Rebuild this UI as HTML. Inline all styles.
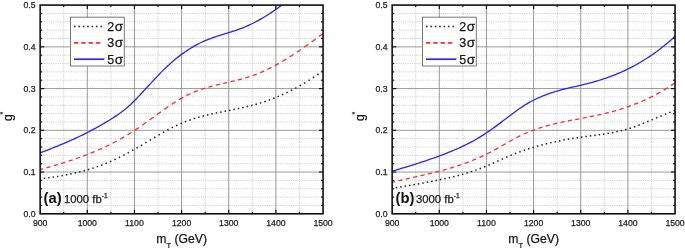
<!DOCTYPE html>
<html><head><meta charset="utf-8"><style>
html,body{margin:0;padding:0;background:#fff;}
body{width:685px;height:248px;overflow:hidden;}
svg{display:block;will-change:transform;filter:blur(0.3px);font-family:"Liberation Sans",sans-serif;}
text{stroke:#222;stroke-width:0.25px;}
.gm{stroke:#cdcdcd;stroke-width:1;stroke-dasharray:1.1 1.1;}
.gM{stroke:#939393;stroke-width:0.95;}
.tk{stroke:#111;stroke-width:1.2;}
.tl{font-size:8.7px;fill:#1a1a1a;}
.lb{font-size:14.8px;font-weight:bold;fill:#111;stroke-width:0;}
.lt{font-size:11.3px;fill:#1a1a1a;}
.sup{font-size:6.6px;}
.lp{}
.sg{font-size:10.2px;}
.lg{font-size:12.5px;fill:#111;}
.at{font-size:12.2px;fill:#111;}
.sub{font-size:7.5px;}
.sup2{font-size:7px;}
</style></head><body>
<svg width="685" height="248" viewBox="0 0 685 248">
<defs>
<clipPath id="clipa"><rect x="40.15" y="5.10" width="282.90" height="208.70"/></clipPath>
<clipPath id="clipb"><rect x="392.15" y="5.10" width="282.90" height="208.70"/></clipPath>
</defs>
<line x1="63.72" y1="5.10" x2="63.72" y2="213.80" class="gm"/>
<line x1="110.88" y1="5.10" x2="110.88" y2="213.80" class="gm"/>
<line x1="158.03" y1="5.10" x2="158.03" y2="213.80" class="gm"/>
<line x1="205.18" y1="5.10" x2="205.18" y2="213.80" class="gm"/>
<line x1="252.32" y1="5.10" x2="252.32" y2="213.80" class="gm"/>
<line x1="299.47" y1="5.10" x2="299.47" y2="213.80" class="gm"/>
<line x1="40.15" y1="205.45" x2="323.05" y2="205.45" class="gm"/>
<line x1="40.15" y1="197.10" x2="323.05" y2="197.10" class="gm"/>
<line x1="40.15" y1="188.76" x2="323.05" y2="188.76" class="gm"/>
<line x1="40.15" y1="180.41" x2="323.05" y2="180.41" class="gm"/>
<line x1="40.15" y1="163.71" x2="323.05" y2="163.71" class="gm"/>
<line x1="40.15" y1="155.36" x2="323.05" y2="155.36" class="gm"/>
<line x1="40.15" y1="147.02" x2="323.05" y2="147.02" class="gm"/>
<line x1="40.15" y1="138.67" x2="323.05" y2="138.67" class="gm"/>
<line x1="40.15" y1="121.97" x2="323.05" y2="121.97" class="gm"/>
<line x1="40.15" y1="113.62" x2="323.05" y2="113.62" class="gm"/>
<line x1="40.15" y1="105.28" x2="323.05" y2="105.28" class="gm"/>
<line x1="40.15" y1="96.93" x2="323.05" y2="96.93" class="gm"/>
<line x1="40.15" y1="80.23" x2="323.05" y2="80.23" class="gm"/>
<line x1="40.15" y1="71.88" x2="323.05" y2="71.88" class="gm"/>
<line x1="40.15" y1="63.54" x2="323.05" y2="63.54" class="gm"/>
<line x1="40.15" y1="55.19" x2="323.05" y2="55.19" class="gm"/>
<line x1="40.15" y1="38.49" x2="323.05" y2="38.49" class="gm"/>
<line x1="40.15" y1="30.14" x2="323.05" y2="30.14" class="gm"/>
<line x1="40.15" y1="21.80" x2="323.05" y2="21.80" class="gm"/>
<line x1="40.15" y1="13.45" x2="323.05" y2="13.45" class="gm"/>
<line x1="87.30" y1="5.10" x2="87.30" y2="213.80" class="gM"/>
<line x1="134.45" y1="5.10" x2="134.45" y2="213.80" class="gM"/>
<line x1="181.60" y1="5.10" x2="181.60" y2="213.80" class="gM"/>
<line x1="228.75" y1="5.10" x2="228.75" y2="213.80" class="gM"/>
<line x1="275.90" y1="5.10" x2="275.90" y2="213.80" class="gM"/>
<line x1="40.15" y1="172.06" x2="323.05" y2="172.06" class="gM"/>
<line x1="40.15" y1="130.32" x2="323.05" y2="130.32" class="gM"/>
<line x1="40.15" y1="88.58" x2="323.05" y2="88.58" class="gM"/>
<line x1="40.15" y1="46.84" x2="323.05" y2="46.84" class="gM"/>
<line x1="63.72" y1="213.80" x2="63.72" y2="211.80" class="tk"/>
<line x1="63.72" y1="5.10" x2="63.72" y2="7.10" class="tk"/>
<line x1="87.30" y1="213.80" x2="87.30" y2="209.80" class="tk"/>
<line x1="87.30" y1="5.10" x2="87.30" y2="9.10" class="tk"/>
<line x1="110.88" y1="213.80" x2="110.88" y2="211.80" class="tk"/>
<line x1="110.88" y1="5.10" x2="110.88" y2="7.10" class="tk"/>
<line x1="134.45" y1="213.80" x2="134.45" y2="209.80" class="tk"/>
<line x1="134.45" y1="5.10" x2="134.45" y2="9.10" class="tk"/>
<line x1="158.03" y1="213.80" x2="158.03" y2="211.80" class="tk"/>
<line x1="158.03" y1="5.10" x2="158.03" y2="7.10" class="tk"/>
<line x1="181.60" y1="213.80" x2="181.60" y2="209.80" class="tk"/>
<line x1="181.60" y1="5.10" x2="181.60" y2="9.10" class="tk"/>
<line x1="205.18" y1="213.80" x2="205.18" y2="211.80" class="tk"/>
<line x1="205.18" y1="5.10" x2="205.18" y2="7.10" class="tk"/>
<line x1="228.75" y1="213.80" x2="228.75" y2="209.80" class="tk"/>
<line x1="228.75" y1="5.10" x2="228.75" y2="9.10" class="tk"/>
<line x1="252.32" y1="213.80" x2="252.32" y2="211.80" class="tk"/>
<line x1="252.32" y1="5.10" x2="252.32" y2="7.10" class="tk"/>
<line x1="275.90" y1="213.80" x2="275.90" y2="209.80" class="tk"/>
<line x1="275.90" y1="5.10" x2="275.90" y2="9.10" class="tk"/>
<line x1="299.47" y1="213.80" x2="299.47" y2="211.80" class="tk"/>
<line x1="299.47" y1="5.10" x2="299.47" y2="7.10" class="tk"/>
<line x1="40.15" y1="205.45" x2="42.15" y2="205.45" class="tk"/>
<line x1="323.05" y1="205.45" x2="321.05" y2="205.45" class="tk"/>
<line x1="40.15" y1="197.10" x2="42.15" y2="197.10" class="tk"/>
<line x1="323.05" y1="197.10" x2="321.05" y2="197.10" class="tk"/>
<line x1="40.15" y1="188.76" x2="42.15" y2="188.76" class="tk"/>
<line x1="323.05" y1="188.76" x2="321.05" y2="188.76" class="tk"/>
<line x1="40.15" y1="180.41" x2="42.15" y2="180.41" class="tk"/>
<line x1="323.05" y1="180.41" x2="321.05" y2="180.41" class="tk"/>
<line x1="40.15" y1="172.06" x2="44.15" y2="172.06" class="tk"/>
<line x1="323.05" y1="172.06" x2="319.05" y2="172.06" class="tk"/>
<line x1="40.15" y1="163.71" x2="42.15" y2="163.71" class="tk"/>
<line x1="323.05" y1="163.71" x2="321.05" y2="163.71" class="tk"/>
<line x1="40.15" y1="155.36" x2="42.15" y2="155.36" class="tk"/>
<line x1="323.05" y1="155.36" x2="321.05" y2="155.36" class="tk"/>
<line x1="40.15" y1="147.02" x2="42.15" y2="147.02" class="tk"/>
<line x1="323.05" y1="147.02" x2="321.05" y2="147.02" class="tk"/>
<line x1="40.15" y1="138.67" x2="42.15" y2="138.67" class="tk"/>
<line x1="323.05" y1="138.67" x2="321.05" y2="138.67" class="tk"/>
<line x1="40.15" y1="130.32" x2="44.15" y2="130.32" class="tk"/>
<line x1="323.05" y1="130.32" x2="319.05" y2="130.32" class="tk"/>
<line x1="40.15" y1="121.97" x2="42.15" y2="121.97" class="tk"/>
<line x1="323.05" y1="121.97" x2="321.05" y2="121.97" class="tk"/>
<line x1="40.15" y1="113.62" x2="42.15" y2="113.62" class="tk"/>
<line x1="323.05" y1="113.62" x2="321.05" y2="113.62" class="tk"/>
<line x1="40.15" y1="105.28" x2="42.15" y2="105.28" class="tk"/>
<line x1="323.05" y1="105.28" x2="321.05" y2="105.28" class="tk"/>
<line x1="40.15" y1="96.93" x2="42.15" y2="96.93" class="tk"/>
<line x1="323.05" y1="96.93" x2="321.05" y2="96.93" class="tk"/>
<line x1="40.15" y1="88.58" x2="44.15" y2="88.58" class="tk"/>
<line x1="323.05" y1="88.58" x2="319.05" y2="88.58" class="tk"/>
<line x1="40.15" y1="80.23" x2="42.15" y2="80.23" class="tk"/>
<line x1="323.05" y1="80.23" x2="321.05" y2="80.23" class="tk"/>
<line x1="40.15" y1="71.88" x2="42.15" y2="71.88" class="tk"/>
<line x1="323.05" y1="71.88" x2="321.05" y2="71.88" class="tk"/>
<line x1="40.15" y1="63.54" x2="42.15" y2="63.54" class="tk"/>
<line x1="323.05" y1="63.54" x2="321.05" y2="63.54" class="tk"/>
<line x1="40.15" y1="55.19" x2="42.15" y2="55.19" class="tk"/>
<line x1="323.05" y1="55.19" x2="321.05" y2="55.19" class="tk"/>
<line x1="40.15" y1="46.84" x2="44.15" y2="46.84" class="tk"/>
<line x1="323.05" y1="46.84" x2="319.05" y2="46.84" class="tk"/>
<line x1="40.15" y1="38.49" x2="42.15" y2="38.49" class="tk"/>
<line x1="323.05" y1="38.49" x2="321.05" y2="38.49" class="tk"/>
<line x1="40.15" y1="30.14" x2="42.15" y2="30.14" class="tk"/>
<line x1="323.05" y1="30.14" x2="321.05" y2="30.14" class="tk"/>
<line x1="40.15" y1="21.80" x2="42.15" y2="21.80" class="tk"/>
<line x1="323.05" y1="21.80" x2="321.05" y2="21.80" class="tk"/>
<line x1="40.15" y1="13.45" x2="42.15" y2="13.45" class="tk"/>
<line x1="323.05" y1="13.45" x2="321.05" y2="13.45" class="tk"/>
<text x="43.50" y="203.0" class="lb"><tspan class="lp">(</tspan>a<tspan class="lp">)</tspan></text>
<text x="64.00" y="203.3" class="lt">1000 fb<tspan dy="-5.6" class="sup">-1</tspan></text>
<g clip-path="url(#clipa)">
<path d="M39.35 178.95L40.83 178.76M43.76 178.37L45.24 178.17M48.17 177.76L49.65 177.55M52.58 177.12L54.06 176.89M56.99 176.43L58.47 176.19M61.40 175.69L62.88 175.43M65.81 174.89L67.29 174.60M70.23 174.02L71.69 173.71M74.64 173.07L76.10 172.74M79.05 172.04L80.51 171.68M83.47 170.91L84.91 170.52M87.88 169.69L89.32 169.26M92.30 168.35L93.72 167.90M96.71 166.90L98.13 166.41M101.13 165.33L102.53 164.80M105.55 163.62L106.93 163.06M109.96 161.77L111.34 161.17M114.38 159.78L115.74 159.14M118.80 157.65L120.14 156.98M123.22 155.41L124.54 154.71M127.63 153.06L128.95 152.34M132.05 150.63L133.35 149.89M136.46 148.12L137.76 147.37M140.87 145.56L142.17 144.81M145.28 142.97L146.58 142.21M149.70 140.35L150.98 139.59M154.10 137.74L155.40 136.98M158.51 135.16L159.81 134.41M162.92 132.64L164.22 131.91M167.32 130.21L168.64 129.50M171.72 127.88L173.06 127.20M176.12 125.70L177.48 125.06M180.52 123.68L181.90 123.09M184.92 121.86L186.32 121.31M189.32 120.21L190.74 119.72M193.72 118.73L195.16 118.28M198.13 117.39L199.57 116.98M202.53 116.17L203.99 115.80M206.94 115.07L208.40 114.72M211.35 114.05L212.81 113.72M215.76 113.09L217.22 112.79M220.16 112.19L221.64 111.90M224.57 111.32L226.05 111.03M228.98 110.46L230.46 110.17M233.39 109.59L234.87 109.29M237.81 108.69L239.27 108.38M242.22 107.75L243.68 107.42M246.63 106.74L248.09 106.38M251.04 105.64L252.50 105.26M255.46 104.44L256.90 104.03M259.87 103.14L261.31 102.69M264.29 101.72L265.71 101.23M268.71 100.18L270.11 99.66M273.12 98.52L274.52 97.98M277.54 96.75L278.92 96.17M281.96 94.85L283.32 94.23M286.37 92.82L287.73 92.17M290.79 90.66L292.13 89.98M295.21 88.37L296.53 87.65M299.63 85.94L300.93 85.19M304.05 83.37L305.33 82.60M308.47 80.66L309.73 79.86M312.89 77.81L314.13 76.97M317.31 74.81L318.53 73.94M321.73 71.65L322.93 70.76" fill="none" stroke="#222" stroke-width="1.50"/>
<path d="M39.03 169.95 L40.40 169.57 L41.76 169.19 L43.13 168.81 M46.40 167.88 L47.76 167.49 L49.13 167.10 L50.50 166.70 M53.76 165.75 L55.13 165.35 L56.50 164.94 L57.86 164.53 M61.13 163.53 L62.50 163.11 L63.86 162.68 L65.23 162.25 M68.50 161.20 L69.86 160.75 L71.23 160.29 L72.60 159.83 M75.87 158.71 L77.23 158.24 L78.60 157.75 L79.97 157.26 M83.23 156.06 L84.60 155.55 L85.97 155.03 L87.33 154.50 M90.60 153.20 L91.97 152.65 L93.33 152.09 L94.70 151.52 M97.97 150.12 L99.33 149.52 L100.70 148.91 L102.07 148.29 M105.33 146.78 L106.70 146.13 L108.07 145.46 L109.43 144.79 M112.70 143.15 L114.07 142.44 L115.43 141.72 L116.80 140.99 M120.07 139.20 L121.43 138.43 L122.80 137.65 L124.17 136.86 M127.43 134.91 L128.80 134.08 L130.17 133.23 L131.53 132.37 M134.80 130.26 L136.17 129.35 L137.53 128.43 L138.90 127.50 M142.17 125.23 L143.53 124.27 L144.90 123.30 L146.27 122.32 M149.53 119.97 L150.90 118.98 L152.27 117.99 L153.63 117.00 M156.90 114.64 L158.27 113.65 L159.64 112.67 L161.00 111.69 M164.27 109.38 L165.64 108.42 L167.00 107.48 L168.37 106.54 M171.64 104.35 L173.00 103.46 L174.37 102.58 L175.74 101.71 M179.00 99.71 L180.37 98.91 L181.74 98.13 L183.10 97.36 M186.37 95.63 L187.74 94.94 L189.10 94.28 L190.47 93.65 M193.74 92.22 L195.10 91.66 L196.47 91.12 L197.84 90.61 M201.10 89.44 L202.47 88.99 L203.84 88.55 L205.20 88.12 M208.47 87.16 L209.84 86.77 L211.20 86.40 L212.57 86.04 M215.84 85.21 L217.20 84.87 L218.57 84.55 L219.94 84.22 M223.21 83.46 L224.57 83.15 L225.94 82.84 L227.31 82.53 M230.57 81.77 L231.94 81.45 L233.31 81.13 L234.67 80.80 M237.94 80.00 L239.31 79.65 L240.67 79.29 L242.04 78.92 M245.31 77.99 L246.67 77.58 L248.04 77.16 L249.41 76.72 M252.67 75.60 L254.04 75.11 L255.41 74.60 L256.77 74.07 M260.04 72.74 L261.41 72.16 L262.77 71.56 L264.14 70.94 M267.41 69.41 L268.77 68.75 L270.14 68.07 L271.51 67.37 M274.77 65.66 L276.14 64.92 L277.51 64.17 L278.87 63.40 M282.14 61.52 L283.51 60.72 L284.87 59.90 L286.24 59.07 M289.51 57.05 L290.87 56.18 L292.24 55.31 L293.61 54.42 M296.88 52.27 L298.24 51.35 L299.61 50.43 L300.98 49.50 M304.24 47.23 L305.61 46.28 L306.98 45.31 L308.34 44.34 M311.61 41.98 L312.98 40.99 L314.34 39.99 L315.71 38.98 M318.98 36.55 L320.34 35.53 L321.71 34.50 L323.08 33.47" fill="none" stroke="#ff2b2b" stroke-width="1.30"/>
<path d="M40.00 152.94 L42.01 152.17 L44.03 151.39 L46.04 150.61 L48.05 149.83 L50.07 149.04 L52.08 148.24 L54.09 147.43 L56.11 146.62 L58.12 145.80 L60.13 144.97 L62.15 144.13 L64.16 143.28 L66.18 142.42 L68.19 141.55 L70.20 140.66 L72.22 139.76 L74.23 138.85 L76.24 137.92 L78.26 136.98 L80.27 136.03 L82.28 135.05 L84.30 134.06 L86.31 133.05 L88.32 132.03 L90.34 130.98 L92.35 129.92 L94.36 128.83 L96.38 127.72 L98.39 126.60 L100.40 125.45 L102.42 124.29 L104.43 123.11 L106.44 121.91 L108.46 120.69 L110.47 119.45 L112.49 118.20 L114.50 116.92 L116.51 115.60 L118.53 114.23 L120.54 112.81 L122.55 111.31 L124.57 109.74 L126.58 108.08 L128.59 106.32 L130.61 104.45 L132.62 102.50 L134.63 100.48 L136.65 98.42 L138.66 96.33 L140.67 94.21 L142.69 92.06 L144.70 89.90 L146.71 87.72 L148.73 85.54 L150.74 83.35 L152.75 81.16 L154.77 78.99 L156.78 76.85 L158.80 74.73 L160.81 72.65 L162.82 70.62 L164.84 68.64 L166.85 66.72 L168.86 64.86 L170.88 63.05 L172.89 61.30 L174.90 59.61 L176.92 57.97 L178.93 56.38 L180.94 54.86 L182.96 53.38 L184.97 51.97 L186.98 50.60 L189.00 49.29 L191.01 48.04 L193.02 46.83 L195.04 45.68 L197.05 44.58 L199.06 43.53 L201.08 42.54 L203.09 41.60 L205.10 40.70 L207.12 39.86 L209.13 39.06 L211.15 38.30 L213.16 37.58 L215.17 36.89 L217.19 36.22 L219.20 35.58 L221.21 34.94 L223.23 34.32 L225.24 33.71 L227.25 33.09 L229.27 32.47 L231.28 31.84 L233.29 31.19 L235.31 30.53 L237.32 29.84 L239.33 29.12 L241.35 28.36 L243.36 27.57 L245.37 26.73 L247.39 25.86 L249.40 24.95 L251.41 24.00 L253.43 23.02 L255.44 21.99 L257.46 20.92 L259.47 19.82 L261.48 18.67 L263.50 17.49 L265.51 16.27 L267.52 15.01 L269.54 13.72 L271.55 12.40 L273.56 11.04 L275.58 9.65 L277.59 8.23 L279.60 6.79 L281.62 5.31 L283.63 3.80 L285.64 2.27 L287.66 0.71 L289.67 -0.87 L291.68 -2.48 L293.70 -4.11 L295.71 -5.76 L297.72 -7.44 L299.74 -9.13 L301.75 -10.84 L303.77 -12.57 L305.78 -14.32 L307.79 -16.08 L309.81 -17.86 L311.82 -19.65 L313.83 -21.46 L315.85 -23.27 L317.86 -25.10 L319.87 -26.94 L321.89 -28.79 L323.90 -30.64" fill="none" stroke="#2626f8" stroke-width="1.30"/>
</g>
<rect x="70.50" y="17.2" width="53.8" height="48.8" fill="#fff" stroke="#777" stroke-width="1"/>
<line x1="74.00" y1="26.50" x2="102.50" y2="26.50" stroke="#222" stroke-width="1.7" stroke-dasharray="1.5 2.9"/>
<text x="107.30" y="30.90" class="lg">2</text><text transform="translate(114.80 30.90) scale(1.08 1)" class="lg sg">&#963;</text>
<line x1="74.00" y1="42.80" x2="100.50" y2="42.80" stroke="#ff2b2b" stroke-width="1.7" stroke-dasharray="4.3 3"/>
<text x="107.30" y="47.20" class="lg">3</text><text transform="translate(114.80 47.20) scale(1.08 1)" class="lg sg">&#963;</text>
<line x1="74.00" y1="59.20" x2="104.30" y2="59.20" stroke="#2626f8" stroke-width="1.7" />
<text x="107.30" y="63.60" class="lg">5</text><text transform="translate(114.80 63.60) scale(1.08 1)" class="lg sg">&#963;</text>
<rect x="40.15" y="5.10" width="282.90" height="208.70" fill="none" stroke="#111" stroke-width="1.6"/>
<text x="40.15" y="225.6" class="tl" text-anchor="middle">900</text>
<text x="87.30" y="225.6" class="tl" text-anchor="middle">1000</text>
<text x="134.45" y="225.6" class="tl" text-anchor="middle">1100</text>
<text x="181.60" y="225.6" class="tl" text-anchor="middle">1200</text>
<text x="228.75" y="225.6" class="tl" text-anchor="middle">1300</text>
<text x="275.90" y="225.6" class="tl" text-anchor="middle">1400</text>
<text x="323.05" y="225.6" class="tl" text-anchor="middle">1500</text>
<text x="35.60" y="216.90" class="tl" text-anchor="end">0.0</text>
<text x="35.60" y="175.16" class="tl" text-anchor="end">0.1</text>
<text x="35.60" y="133.42" class="tl" text-anchor="end">0.2</text>
<text x="35.60" y="91.68" class="tl" text-anchor="end">0.3</text>
<text x="35.60" y="49.94" class="tl" text-anchor="end">0.4</text>
<text x="35.60" y="8.20" class="tl" text-anchor="end">0.5</text>
<text x="156.30" y="243.3" class="at">m<tspan dy="4.3" class="sub">T</tspan><tspan dy="-4.3"> (GeV)</tspan></text>
<text transform="translate(12.20 121.0) rotate(-90)" class="at">g<tspan dx="-0.3" dy="-7.2" class="sup2">*</tspan></text>
<line x1="415.72" y1="5.10" x2="415.72" y2="213.80" class="gm"/>
<line x1="462.88" y1="5.10" x2="462.88" y2="213.80" class="gm"/>
<line x1="510.02" y1="5.10" x2="510.02" y2="213.80" class="gm"/>
<line x1="557.17" y1="5.10" x2="557.17" y2="213.80" class="gm"/>
<line x1="604.32" y1="5.10" x2="604.32" y2="213.80" class="gm"/>
<line x1="651.47" y1="5.10" x2="651.47" y2="213.80" class="gm"/>
<line x1="392.15" y1="205.45" x2="675.05" y2="205.45" class="gm"/>
<line x1="392.15" y1="197.10" x2="675.05" y2="197.10" class="gm"/>
<line x1="392.15" y1="188.76" x2="675.05" y2="188.76" class="gm"/>
<line x1="392.15" y1="180.41" x2="675.05" y2="180.41" class="gm"/>
<line x1="392.15" y1="163.71" x2="675.05" y2="163.71" class="gm"/>
<line x1="392.15" y1="155.36" x2="675.05" y2="155.36" class="gm"/>
<line x1="392.15" y1="147.02" x2="675.05" y2="147.02" class="gm"/>
<line x1="392.15" y1="138.67" x2="675.05" y2="138.67" class="gm"/>
<line x1="392.15" y1="121.97" x2="675.05" y2="121.97" class="gm"/>
<line x1="392.15" y1="113.62" x2="675.05" y2="113.62" class="gm"/>
<line x1="392.15" y1="105.28" x2="675.05" y2="105.28" class="gm"/>
<line x1="392.15" y1="96.93" x2="675.05" y2="96.93" class="gm"/>
<line x1="392.15" y1="80.23" x2="675.05" y2="80.23" class="gm"/>
<line x1="392.15" y1="71.88" x2="675.05" y2="71.88" class="gm"/>
<line x1="392.15" y1="63.54" x2="675.05" y2="63.54" class="gm"/>
<line x1="392.15" y1="55.19" x2="675.05" y2="55.19" class="gm"/>
<line x1="392.15" y1="38.49" x2="675.05" y2="38.49" class="gm"/>
<line x1="392.15" y1="30.14" x2="675.05" y2="30.14" class="gm"/>
<line x1="392.15" y1="21.80" x2="675.05" y2="21.80" class="gm"/>
<line x1="392.15" y1="13.45" x2="675.05" y2="13.45" class="gm"/>
<line x1="439.30" y1="5.10" x2="439.30" y2="213.80" class="gM"/>
<line x1="486.45" y1="5.10" x2="486.45" y2="213.80" class="gM"/>
<line x1="533.60" y1="5.10" x2="533.60" y2="213.80" class="gM"/>
<line x1="580.75" y1="5.10" x2="580.75" y2="213.80" class="gM"/>
<line x1="627.90" y1="5.10" x2="627.90" y2="213.80" class="gM"/>
<line x1="392.15" y1="172.06" x2="675.05" y2="172.06" class="gM"/>
<line x1="392.15" y1="130.32" x2="675.05" y2="130.32" class="gM"/>
<line x1="392.15" y1="88.58" x2="675.05" y2="88.58" class="gM"/>
<line x1="392.15" y1="46.84" x2="675.05" y2="46.84" class="gM"/>
<line x1="415.72" y1="213.80" x2="415.72" y2="211.80" class="tk"/>
<line x1="415.72" y1="5.10" x2="415.72" y2="7.10" class="tk"/>
<line x1="439.30" y1="213.80" x2="439.30" y2="209.80" class="tk"/>
<line x1="439.30" y1="5.10" x2="439.30" y2="9.10" class="tk"/>
<line x1="462.88" y1="213.80" x2="462.88" y2="211.80" class="tk"/>
<line x1="462.88" y1="5.10" x2="462.88" y2="7.10" class="tk"/>
<line x1="486.45" y1="213.80" x2="486.45" y2="209.80" class="tk"/>
<line x1="486.45" y1="5.10" x2="486.45" y2="9.10" class="tk"/>
<line x1="510.02" y1="213.80" x2="510.02" y2="211.80" class="tk"/>
<line x1="510.02" y1="5.10" x2="510.02" y2="7.10" class="tk"/>
<line x1="533.60" y1="213.80" x2="533.60" y2="209.80" class="tk"/>
<line x1="533.60" y1="5.10" x2="533.60" y2="9.10" class="tk"/>
<line x1="557.17" y1="213.80" x2="557.17" y2="211.80" class="tk"/>
<line x1="557.17" y1="5.10" x2="557.17" y2="7.10" class="tk"/>
<line x1="580.75" y1="213.80" x2="580.75" y2="209.80" class="tk"/>
<line x1="580.75" y1="5.10" x2="580.75" y2="9.10" class="tk"/>
<line x1="604.32" y1="213.80" x2="604.32" y2="211.80" class="tk"/>
<line x1="604.32" y1="5.10" x2="604.32" y2="7.10" class="tk"/>
<line x1="627.90" y1="213.80" x2="627.90" y2="209.80" class="tk"/>
<line x1="627.90" y1="5.10" x2="627.90" y2="9.10" class="tk"/>
<line x1="651.47" y1="213.80" x2="651.47" y2="211.80" class="tk"/>
<line x1="651.47" y1="5.10" x2="651.47" y2="7.10" class="tk"/>
<line x1="392.15" y1="205.45" x2="394.15" y2="205.45" class="tk"/>
<line x1="675.05" y1="205.45" x2="673.05" y2="205.45" class="tk"/>
<line x1="392.15" y1="197.10" x2="394.15" y2="197.10" class="tk"/>
<line x1="675.05" y1="197.10" x2="673.05" y2="197.10" class="tk"/>
<line x1="392.15" y1="188.76" x2="394.15" y2="188.76" class="tk"/>
<line x1="675.05" y1="188.76" x2="673.05" y2="188.76" class="tk"/>
<line x1="392.15" y1="180.41" x2="394.15" y2="180.41" class="tk"/>
<line x1="675.05" y1="180.41" x2="673.05" y2="180.41" class="tk"/>
<line x1="392.15" y1="172.06" x2="396.15" y2="172.06" class="tk"/>
<line x1="675.05" y1="172.06" x2="671.05" y2="172.06" class="tk"/>
<line x1="392.15" y1="163.71" x2="394.15" y2="163.71" class="tk"/>
<line x1="675.05" y1="163.71" x2="673.05" y2="163.71" class="tk"/>
<line x1="392.15" y1="155.36" x2="394.15" y2="155.36" class="tk"/>
<line x1="675.05" y1="155.36" x2="673.05" y2="155.36" class="tk"/>
<line x1="392.15" y1="147.02" x2="394.15" y2="147.02" class="tk"/>
<line x1="675.05" y1="147.02" x2="673.05" y2="147.02" class="tk"/>
<line x1="392.15" y1="138.67" x2="394.15" y2="138.67" class="tk"/>
<line x1="675.05" y1="138.67" x2="673.05" y2="138.67" class="tk"/>
<line x1="392.15" y1="130.32" x2="396.15" y2="130.32" class="tk"/>
<line x1="675.05" y1="130.32" x2="671.05" y2="130.32" class="tk"/>
<line x1="392.15" y1="121.97" x2="394.15" y2="121.97" class="tk"/>
<line x1="675.05" y1="121.97" x2="673.05" y2="121.97" class="tk"/>
<line x1="392.15" y1="113.62" x2="394.15" y2="113.62" class="tk"/>
<line x1="675.05" y1="113.62" x2="673.05" y2="113.62" class="tk"/>
<line x1="392.15" y1="105.28" x2="394.15" y2="105.28" class="tk"/>
<line x1="675.05" y1="105.28" x2="673.05" y2="105.28" class="tk"/>
<line x1="392.15" y1="96.93" x2="394.15" y2="96.93" class="tk"/>
<line x1="675.05" y1="96.93" x2="673.05" y2="96.93" class="tk"/>
<line x1="392.15" y1="88.58" x2="396.15" y2="88.58" class="tk"/>
<line x1="675.05" y1="88.58" x2="671.05" y2="88.58" class="tk"/>
<line x1="392.15" y1="80.23" x2="394.15" y2="80.23" class="tk"/>
<line x1="675.05" y1="80.23" x2="673.05" y2="80.23" class="tk"/>
<line x1="392.15" y1="71.88" x2="394.15" y2="71.88" class="tk"/>
<line x1="675.05" y1="71.88" x2="673.05" y2="71.88" class="tk"/>
<line x1="392.15" y1="63.54" x2="394.15" y2="63.54" class="tk"/>
<line x1="675.05" y1="63.54" x2="673.05" y2="63.54" class="tk"/>
<line x1="392.15" y1="55.19" x2="394.15" y2="55.19" class="tk"/>
<line x1="675.05" y1="55.19" x2="673.05" y2="55.19" class="tk"/>
<line x1="392.15" y1="46.84" x2="396.15" y2="46.84" class="tk"/>
<line x1="675.05" y1="46.84" x2="671.05" y2="46.84" class="tk"/>
<line x1="392.15" y1="38.49" x2="394.15" y2="38.49" class="tk"/>
<line x1="675.05" y1="38.49" x2="673.05" y2="38.49" class="tk"/>
<line x1="392.15" y1="30.14" x2="394.15" y2="30.14" class="tk"/>
<line x1="675.05" y1="30.14" x2="673.05" y2="30.14" class="tk"/>
<line x1="392.15" y1="21.80" x2="394.15" y2="21.80" class="tk"/>
<line x1="675.05" y1="21.80" x2="673.05" y2="21.80" class="tk"/>
<line x1="392.15" y1="13.45" x2="394.15" y2="13.45" class="tk"/>
<line x1="675.05" y1="13.45" x2="673.05" y2="13.45" class="tk"/>
<text x="395.50" y="203.0" class="lb"><tspan class="lp">(</tspan>b<tspan class="lp">)</tspan></text>
<text x="416.00" y="203.3" class="lt">3000 fb<tspan dy="-5.6" class="sup">-1</tspan></text>
<g clip-path="url(#clipb)">
<path d="M391.35 188.22L392.83 188.04M395.76 187.65L397.24 187.45M400.17 187.02L401.65 186.80M404.58 186.34L406.06 186.10M408.99 185.61L410.47 185.36M413.40 184.84L414.88 184.57M417.81 184.03L419.29 183.75M422.22 183.19L423.70 182.90M426.63 182.33L428.11 182.04M431.04 181.45L432.52 181.15M435.46 180.55L436.92 180.26M439.87 179.66L441.33 179.35M444.28 178.74L445.74 178.43M448.69 177.79L450.15 177.46M453.10 176.78L454.56 176.43M457.51 175.71L458.97 175.33M461.93 174.54L463.37 174.14M466.34 173.27L467.78 172.84M470.76 171.88L472.18 171.41M475.17 170.38L476.59 169.87M479.59 168.76L480.99 168.22M484.00 167.03L485.40 166.47M488.42 165.21L489.80 164.62M492.83 163.30L494.21 162.69M497.25 161.32L498.61 160.69M501.66 159.31L503.02 158.70M506.06 157.35L507.44 156.75M510.47 155.47L511.85 154.90M514.87 153.70L516.27 153.16M519.28 152.03L520.68 151.52M523.68 150.46L525.10 149.98M528.09 148.99L529.51 148.53M532.49 147.60L533.93 147.17M536.90 146.30L538.34 145.89M541.30 145.08L542.76 144.70M545.71 143.94L547.17 143.58M550.12 142.88L551.58 142.54M554.53 141.89L555.99 141.57M558.93 140.96L560.41 140.67M563.34 140.10L564.82 139.83M567.75 139.30L569.23 139.04M572.16 138.55L573.64 138.32M576.57 137.86L578.05 137.64M580.98 137.22L582.46 137.01M585.39 136.61L586.87 136.42M589.80 136.03L591.28 135.84M594.21 135.46L595.69 135.26M598.62 134.86L600.10 134.66M603.03 134.23L604.51 134.01M607.44 133.54L608.92 133.29M611.85 132.76L613.33 132.48M616.27 131.89L617.73 131.57M620.68 130.89L622.14 130.53M625.10 129.74L626.54 129.34M629.52 128.44L630.94 127.98M633.93 126.96L635.35 126.45M638.35 125.34L639.75 124.80M642.76 123.60L644.16 123.04M647.18 121.79L648.56 121.21M651.59 119.94L652.97 119.35M656.00 118.06L657.38 117.48M660.41 116.20L661.79 115.63M664.81 114.39L666.21 113.83M669.22 112.66L670.62 112.13M673.62 111.03L675.04 110.54" fill="none" stroke="#222" stroke-width="1.50"/>
<path d="M391.03 182.58 L392.40 182.24 L393.76 181.90 L395.13 181.57 M398.40 180.79 L399.76 180.47 L401.13 180.15 L402.50 179.83 M405.76 179.08 L407.13 178.77 L408.50 178.46 L409.86 178.16 M413.13 177.42 L414.50 177.12 L415.86 176.81 L417.23 176.50 M420.50 175.76 L421.86 175.45 L423.23 175.14 L424.60 174.82 M427.86 174.06 L429.23 173.73 L430.60 173.40 L431.96 173.07 M435.23 172.26 L436.60 171.92 L437.97 171.57 L439.33 171.21 M442.60 170.34 L443.97 169.97 L445.33 169.59 L446.70 169.20 M449.97 168.24 L451.33 167.83 L452.70 167.41 L454.07 166.99 M457.33 165.93 L458.70 165.48 L460.07 165.01 L461.43 164.54 M464.70 163.37 L466.07 162.87 L467.43 162.36 L468.80 161.83 M472.07 160.54 L473.43 159.99 L474.80 159.42 L476.17 158.84 M479.43 157.42 L480.80 156.80 L482.17 156.17 L483.53 155.54 M486.80 153.97 L488.17 153.29 L489.53 152.60 L490.90 151.90 M494.17 150.17 L495.53 149.43 L496.90 148.67 L498.27 147.91 M501.53 146.04 L502.90 145.26 L504.27 144.47 L505.63 143.68 M508.90 141.80 L510.27 141.02 L511.64 140.25 L513.00 139.49 M516.27 137.73 L517.64 137.02 L519.00 136.33 L520.37 135.66 M523.64 134.12 L525.00 133.51 L526.37 132.92 L527.74 132.35 M531.00 131.04 L532.37 130.52 L533.74 130.01 L535.10 129.52 M538.37 128.41 L539.74 127.96 L541.10 127.53 L542.47 127.11 M545.74 126.16 L547.10 125.78 L548.47 125.40 L549.84 125.04 M553.10 124.22 L554.47 123.89 L555.84 123.57 L557.20 123.25 M560.47 122.53 L561.84 122.23 L563.20 121.94 L564.57 121.66 M567.84 121.00 L569.20 120.73 L570.57 120.47 L571.94 120.20 M575.20 119.58 L576.57 119.32 L577.94 119.06 L579.30 118.81 M582.57 118.19 L583.94 117.93 L585.31 117.67 L586.67 117.40 M589.94 116.76 L591.31 116.48 L592.67 116.20 L594.04 115.92 M597.31 115.22 L598.67 114.92 L600.04 114.61 L601.41 114.30 M604.67 113.52 L606.04 113.19 L607.41 112.85 L608.77 112.50 M612.04 111.64 L613.41 111.26 L614.77 110.88 L616.14 110.49 M619.41 109.52 L620.77 109.10 L622.14 108.67 L623.51 108.23 M626.77 107.15 L628.14 106.67 L629.51 106.19 L630.87 105.70 M634.14 104.48 L635.51 103.95 L636.87 103.40 L638.24 102.85 M641.51 101.48 L642.87 100.88 L644.24 100.28 L645.61 99.65 M648.88 98.12 L650.24 97.45 L651.61 96.77 L652.98 96.08 M656.24 94.36 L657.61 93.62 L658.98 92.86 L660.34 92.08 M663.61 90.17 L664.98 89.34 L666.34 88.50 L667.71 87.64 M670.98 85.52 L672.34 84.60 L673.71 83.67 L675.08 82.71" fill="none" stroke="#ff2b2b" stroke-width="1.30"/>
<path d="M392.00 171.20 L394.01 170.61 L396.03 170.02 L398.04 169.43 L400.05 168.84 L402.07 168.24 L404.08 167.63 L406.09 167.02 L408.11 166.41 L410.12 165.79 L412.13 165.17 L414.15 164.54 L416.16 163.90 L418.18 163.25 L420.19 162.60 L422.20 161.94 L424.22 161.27 L426.23 160.60 L428.24 159.91 L430.26 159.22 L432.27 158.51 L434.28 157.80 L436.30 157.07 L438.31 156.33 L440.32 155.59 L442.34 154.82 L444.35 154.05 L446.36 153.27 L448.38 152.47 L450.39 151.66 L452.40 150.83 L454.42 149.99 L456.43 149.12 L458.44 148.24 L460.46 147.33 L462.47 146.40 L464.49 145.45 L466.50 144.46 L468.51 143.45 L470.53 142.40 L472.54 141.32 L474.55 140.21 L476.57 139.06 L478.58 137.87 L480.59 136.65 L482.61 135.38 L484.62 134.08 L486.63 132.74 L488.65 131.37 L490.66 129.97 L492.67 128.55 L494.69 127.10 L496.70 125.62 L498.71 124.13 L500.73 122.62 L502.74 121.10 L504.75 119.57 L506.77 118.03 L508.78 116.50 L510.80 114.97 L512.81 113.46 L514.82 111.98 L516.84 110.52 L518.85 109.09 L520.86 107.70 L522.88 106.36 L524.89 105.07 L526.90 103.84 L528.92 102.66 L530.93 101.54 L532.94 100.48 L534.96 99.47 L536.97 98.51 L538.98 97.60 L541.00 96.73 L543.01 95.90 L545.02 95.12 L547.04 94.37 L549.05 93.66 L551.06 92.98 L553.08 92.33 L555.09 91.71 L557.10 91.11 L559.12 90.54 L561.13 89.99 L563.15 89.46 L565.16 88.94 L567.17 88.44 L569.19 87.94 L571.20 87.46 L573.21 86.98 L575.23 86.51 L577.24 86.04 L579.25 85.56 L581.27 85.09 L583.28 84.60 L585.29 84.11 L587.31 83.61 L589.32 83.09 L591.33 82.56 L593.35 82.01 L595.36 81.45 L597.37 80.86 L599.39 80.25 L601.40 79.62 L603.41 78.96 L605.43 78.29 L607.44 77.59 L609.46 76.87 L611.47 76.12 L613.48 75.35 L615.50 74.55 L617.51 73.72 L619.52 72.87 L621.54 71.99 L623.55 71.08 L625.56 70.15 L627.58 69.18 L629.59 68.18 L631.60 67.15 L633.62 66.09 L635.63 65.00 L637.64 63.88 L639.66 62.72 L641.67 61.53 L643.68 60.30 L645.70 59.04 L647.71 57.74 L649.72 56.41 L651.74 55.04 L653.75 53.63 L655.77 52.19 L657.78 50.70 L659.79 49.17 L661.81 47.61 L663.82 46.00 L665.83 44.35 L667.85 42.66 L669.86 40.93 L671.87 39.16 L673.89 37.34 L675.90 35.47" fill="none" stroke="#2626f8" stroke-width="1.30"/>
</g>
<rect x="422.50" y="17.2" width="53.8" height="48.8" fill="#fff" stroke="#777" stroke-width="1"/>
<line x1="426.00" y1="26.50" x2="454.50" y2="26.50" stroke="#222" stroke-width="1.7" stroke-dasharray="1.5 2.9"/>
<text x="459.30" y="30.90" class="lg">2</text><text transform="translate(466.80 30.90) scale(1.08 1)" class="lg sg">&#963;</text>
<line x1="426.00" y1="42.80" x2="452.50" y2="42.80" stroke="#ff2b2b" stroke-width="1.7" stroke-dasharray="4.3 3"/>
<text x="459.30" y="47.20" class="lg">3</text><text transform="translate(466.80 47.20) scale(1.08 1)" class="lg sg">&#963;</text>
<line x1="426.00" y1="59.20" x2="456.30" y2="59.20" stroke="#2626f8" stroke-width="1.7" />
<text x="459.30" y="63.60" class="lg">5</text><text transform="translate(466.80 63.60) scale(1.08 1)" class="lg sg">&#963;</text>
<rect x="392.15" y="5.10" width="282.90" height="208.70" fill="none" stroke="#111" stroke-width="1.6"/>
<text x="392.15" y="225.6" class="tl" text-anchor="middle">900</text>
<text x="439.30" y="225.6" class="tl" text-anchor="middle">1000</text>
<text x="486.45" y="225.6" class="tl" text-anchor="middle">1100</text>
<text x="533.60" y="225.6" class="tl" text-anchor="middle">1200</text>
<text x="580.75" y="225.6" class="tl" text-anchor="middle">1300</text>
<text x="627.90" y="225.6" class="tl" text-anchor="middle">1400</text>
<text x="675.05" y="225.6" class="tl" text-anchor="middle">1500</text>
<text x="387.60" y="216.90" class="tl" text-anchor="end">0.0</text>
<text x="387.60" y="175.16" class="tl" text-anchor="end">0.1</text>
<text x="387.60" y="133.42" class="tl" text-anchor="end">0.2</text>
<text x="387.60" y="91.68" class="tl" text-anchor="end">0.3</text>
<text x="387.60" y="49.94" class="tl" text-anchor="end">0.4</text>
<text x="387.60" y="8.20" class="tl" text-anchor="end">0.5</text>
<text x="508.30" y="243.3" class="at">m<tspan dy="4.3" class="sub">T</tspan><tspan dy="-4.3"> (GeV)</tspan></text>
<text transform="translate(364.20 121.0) rotate(-90)" class="at">g<tspan dx="-0.3" dy="-7.2" class="sup2">*</tspan></text>
</svg>
</body></html>
